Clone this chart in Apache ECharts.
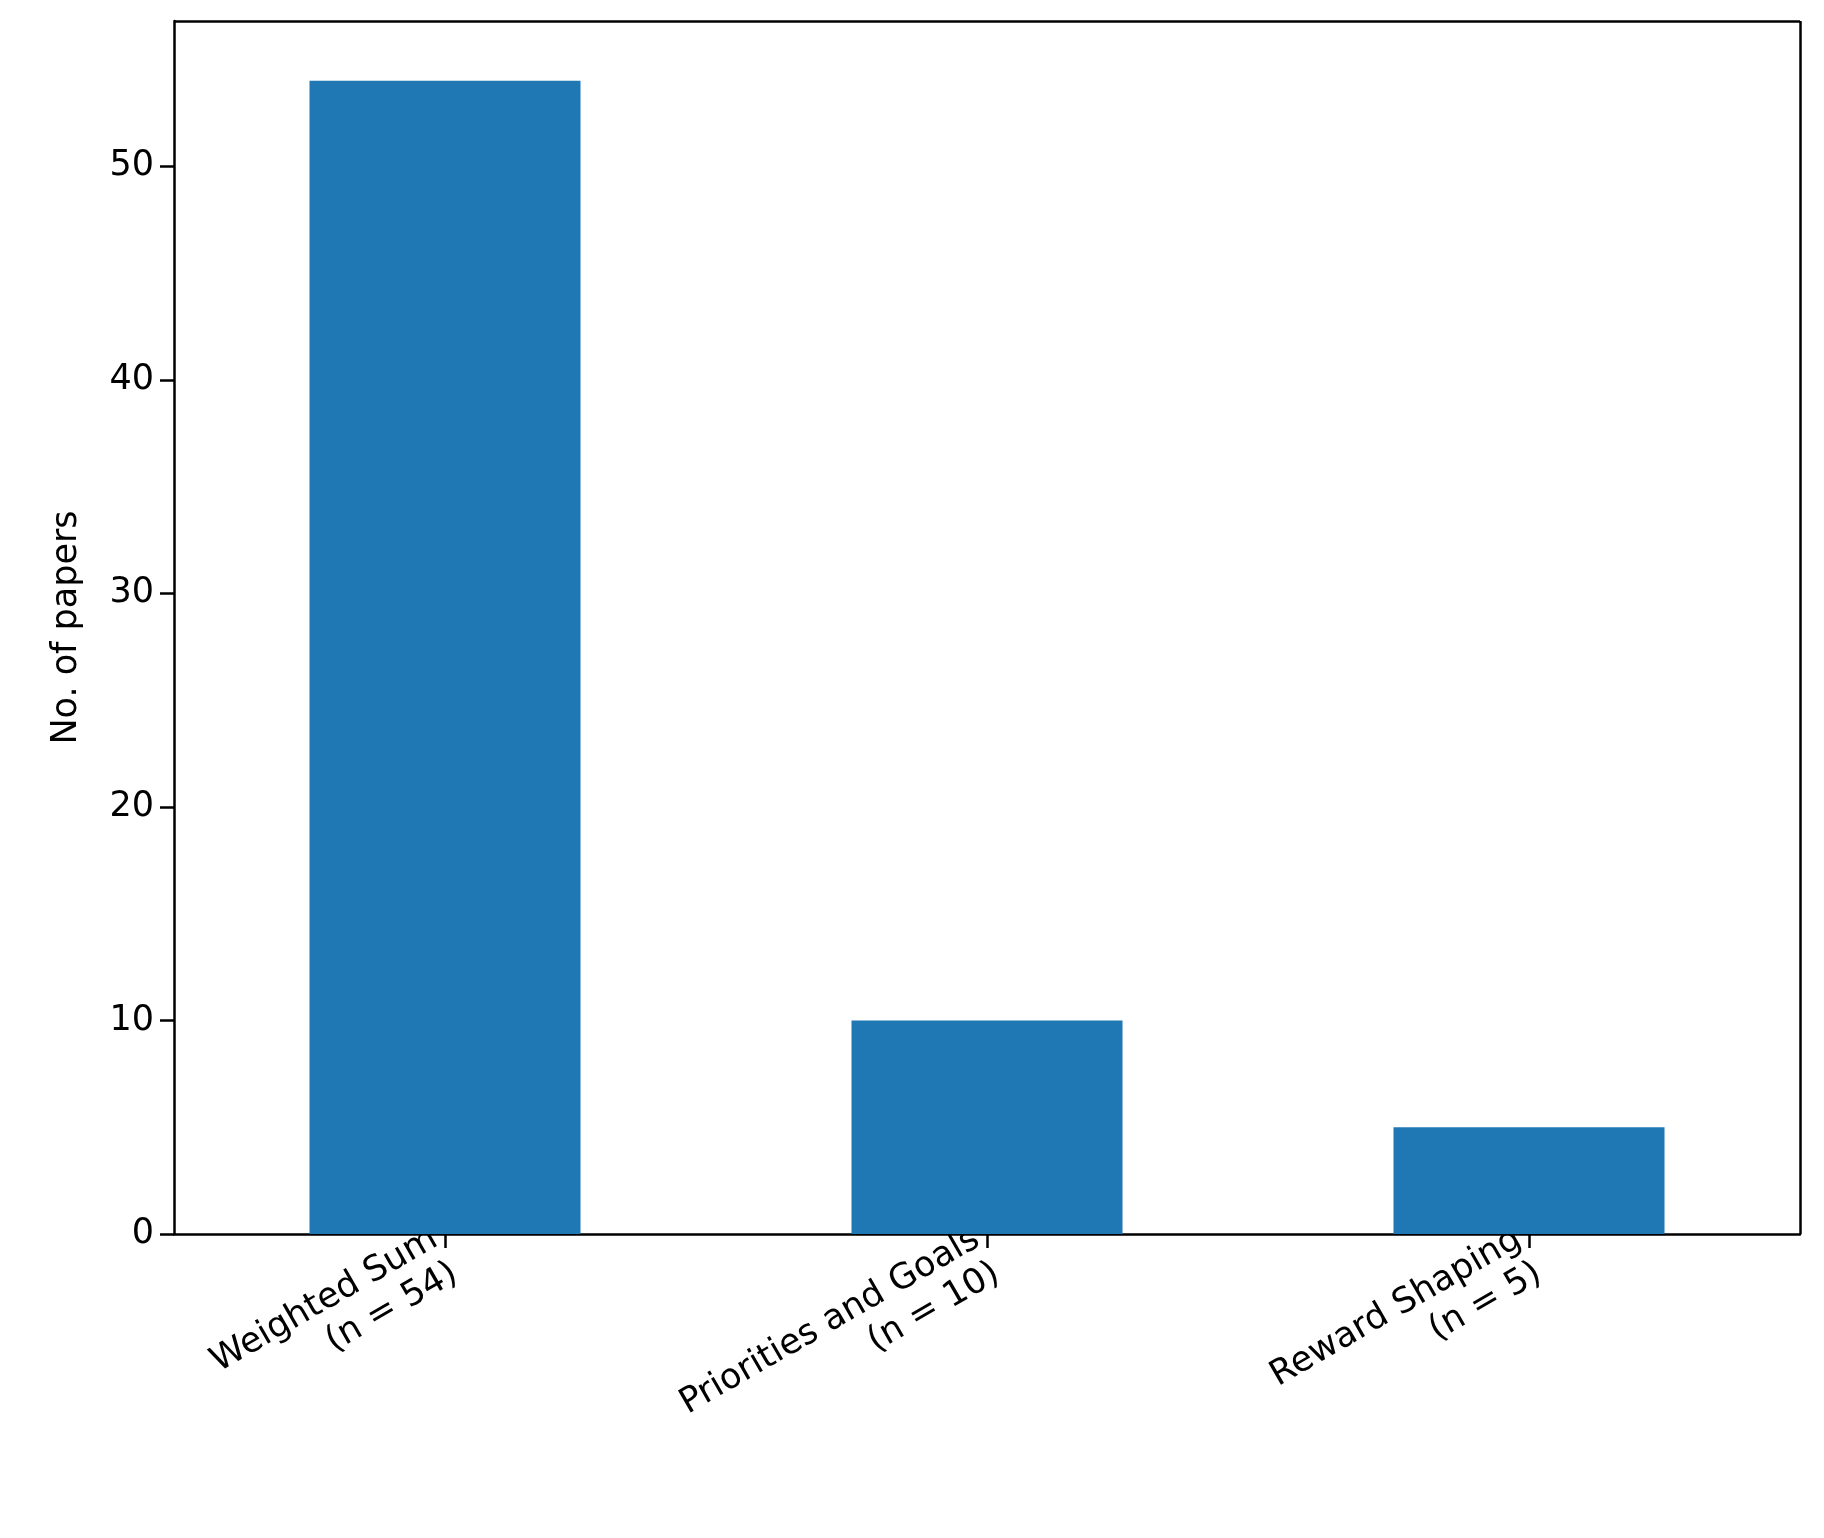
<!DOCTYPE html>
<html><head><meta charset="utf-8">
<script src="https://cdn.jsdelivr.net/npm/echarts@6/dist/echarts.min.js"></script>
<style>html,body{margin:0;padding:0;background:#fff}#main{width:1824px;height:1538px}</style>
</head><body><div id="main"></div>
<script>
// categories and counts
var categories = ['Weighted Sum\n(n = 54)', 'Priorities and Goals\n(n = 10)', 'Reward Shaping\n(n = 5)'];
var papers = [54, 10, 5];
var yTicks = [0, 10, 20, 30, 40, 50];

var myChart = echarts.init(document.getElementById('main'));
var font = 'DejaVu Sans';
myChart.setOption({
    animation: false,
    grid: {left: 174, right: 24, top: 21, bottom: 304, containLabel: false},
    xAxis: {
        type: 'category',
        data: categories,
        axisLine: {show: true, lineStyle: {color: '#000', width: 2.5}},
        axisTick: {show: true, alignWithLabel: true, length: 14, lineStyle: {color: '#000', width: 2.5}},
        axisLabel: {rotate: 30, fontFamily: font, fontSize: 35, color: '#000', margin: 20, align: 'right', lineHeight: 40}
    },
    yAxis: {
        type: 'value',
        min: 0, max: 56.8, interval: 10,
        name: 'No. of papers', nameLocation: 'middle', nameGap: 90,
        nameTextStyle: {fontFamily: font, fontSize: 35, color: '#000'},
        splitLine: {show: false},
        axisLine: {show: true, lineStyle: {color: '#000', width: 2.5}},
        axisTick: {show: true, length: 14, lineStyle: {color: '#000', width: 2.5}},
        axisLabel: {
            fontFamily: font, fontSize: 35, color: '#000', margin: 20,
            formatter: function (v) { return yTicks.indexOf(v) >= 0 ? String(v) : ''; },
            showMaxLabel: false
        }
    },
    series: [{
        type: 'bar',
        data: papers,
        barWidth: '50%',
        itemStyle: {color: '#1f77b4'},
        markLine: {
            silent: true, symbol: 'none', label: {show: false},
            lineStyle: {color: '#000', width: 2.5, type: 'solid'},
            data: [{yAxis: 56.8}, [{xAxis: 2, x: 1800, yAxis: 0}, {x: 1800, yAxis: 56.8}]]
        }
    }]
});
</script></body></html>
